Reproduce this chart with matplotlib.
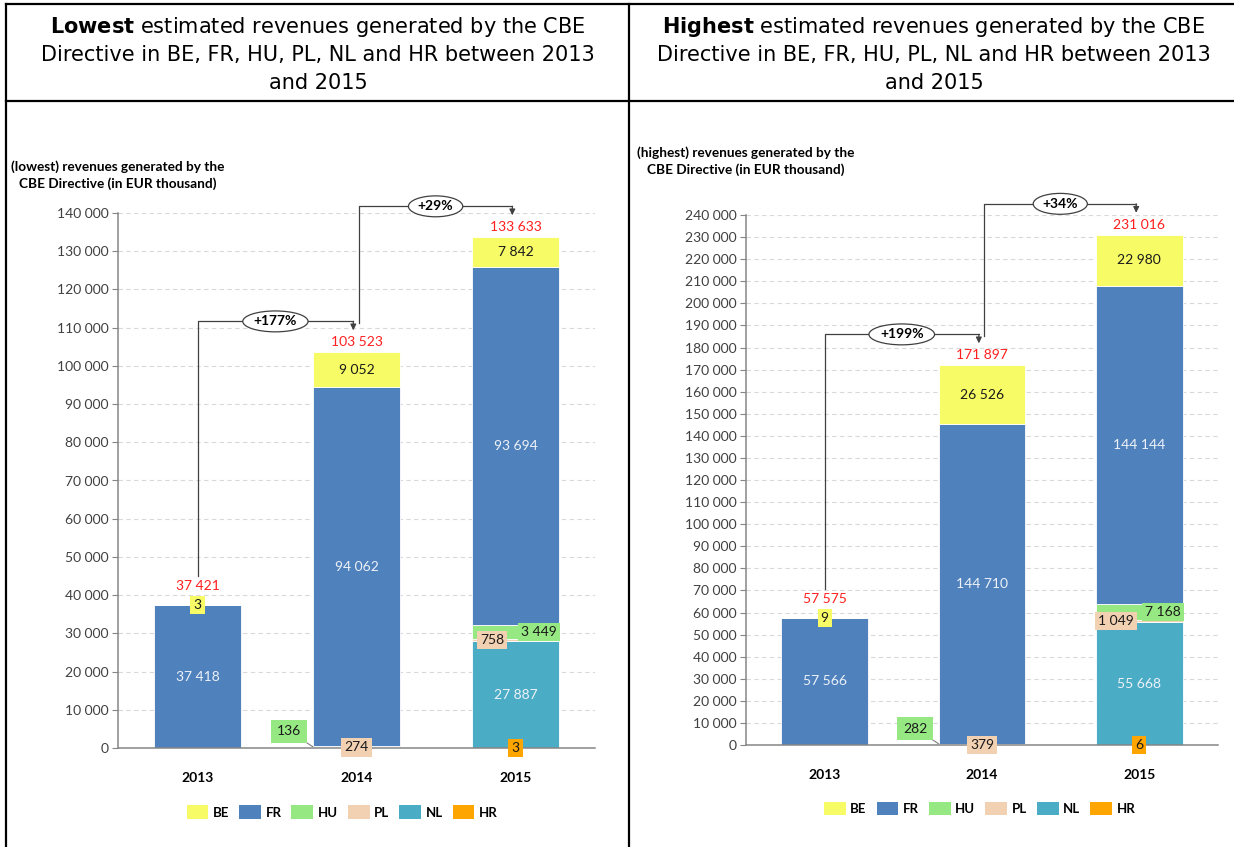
import matplotlib.pyplot as plt
from matplotlib.lines import Line2D
from matplotlib.patches import Patch
from matplotlib.ticker import MultipleLocator, FuncFormatter

plt.rcParams['font.family'] = ['Lato', 'DejaVu Sans']
plt.rcParams['mathtext.fontset'] = 'dejavusans'

years = ['2013', '2014', '2015']
countries = ['BE', 'FR', 'HU', 'PL', 'NL', 'HR']
stack_order = ['HR', 'NL', 'PL', 'HU', 'FR', 'BE']
colors = {'BE': '#F6FB66', 'FR': '#4F81BD', 'HU': '#96E883',
          'PL': '#F2D1B3', 'NL': '#4BACC6', 'HR': '#FFA500'}

# lowest estimate, EUR thousand
low_be = [3, 9052, 7842]
low_fr = [37418, 94062, 93694]
low_hu = [0, 136, 3449]
low_pl = [0, 274, 758]
low_nl = [0, 0, 27887]
low_hr = [0, 0, 3]
low_total = [37421, 103523, 133633]
low_growth = ['+177%', '+29%']

# highest estimate, EUR thousand
high_be = [9, 26526, 22980]
high_fr = [57566, 144710, 144144]
high_hu = [0, 282, 7168]
high_pl = [0, 379, 1049]
high_nl = [0, 0, 55668]
high_hr = [0, 0, 6]
high_total = [57575, 171897, 231016]
high_growth = ['+199%', '+34%']

# label nudges (points) for the thin segments
nudges = {('HU', 1): (-17, 11), ('HU', 2): (17, 0), ('PL', 2): (-17, 0)}

fig = plt.figure(figsize=(12.34, 8.47), dpi=100)
W, H = 1234, 847


def fmt(v):
    return f'{v:,.0f}'.replace(',', ' ')


def px2data(ax, px):
    h = ax.get_position().height * H
    lo, hi = ax.get_ylim()
    return px * (hi - lo) / h


def draw_panel(ax, data, totals, growth, ymax, ylabel, ylabel_y, legend_x):
    width = 0.55
    x = range(len(years))
    bottoms = [0] * len(years)
    for c in stack_order:
        vals = data[c]
        ax.bar(x, vals, width, bottom=bottoms, color=colors[c],
               edgecolor='white', linewidth=0.6, zorder=2)
        for i, v in enumerate(vals):
            if v <= 0:
                continue
            yc = bottoms[i] + v / 2
            light = c in ('FR', 'NL')
            dx, dy = nudges.get((c, i), (0, 0))
            kw = dict(ha='center', va='center', fontsize=10, zorder=6,
                      color='#EEF2F8' if light else '#1A1A1A',
                      textcoords='offset points', xytext=(dx, dy),
                      annotation_clip=False)
            if not light:
                kw['bbox'] = dict(boxstyle='square,pad=0.22', fc=colors[c], ec='none')
            if (c, i) == ('HU', 1):
                # label sits left of the bar, tied to it by a short leader
                kw['bbox'] = dict(boxstyle='square,pad=0.4', fc=colors[c], ec='none')
                kw['arrowprops'] = dict(arrowstyle='-', color='#7F7F7F', lw=0.8,
                                        shrinkA=0, shrinkB=0)
                ax.annotate(fmt(v), (i - width / 2, yc), **kw)
            else:
                ax.annotate(fmt(v), (i, yc), **kw)
        bottoms = [b + v for b, v in zip(bottoms, vals)]

    ax.set_xlim(-0.5, 2.5)
    ax.set_ylim(0, ymax)
    ax.yaxis.set_major_locator(MultipleLocator(10000))
    ax.yaxis.set_major_formatter(FuncFormatter(lambda v, p: fmt(v)))
    ax.yaxis.grid(True, linestyle=(0, (4, 3)), color='#D9D9D9', lw=0.8)
    ax.set_axisbelow(True)
    for s in ('top', 'right'):
        ax.spines[s].set_visible(False)
    for s in ('left', 'bottom'):
        ax.spines[s].set_color('#868686')
        ax.spines[s].set_linewidth(1.1)
    ax.tick_params(axis='y', length=4, color='#868686', labelsize=10,
                   labelcolor='#404040', pad=3)
    ax.set_xticks(list(x))
    ax.set_xticklabels(years, fontweight='bold', fontsize=10)
    ax.tick_params(axis='x', length=0, pad=17)

    # totals on top of each stack; lifted where the tiny BE box sits on top
    for i, t in enumerate(totals):
        lift = 9 if data['BE'][i] < 0.01 * t else 3
        ax.annotate(fmt(t), (i, t), xytext=(0, lift), textcoords='offset points',
                    ha='center', va='bottom', color='#FF1F1F', fontsize=10,
                    annotation_clip=False)

    # growth brackets between consecutive years
    lc = '#404040'
    for i, g in enumerate(growth):
        x0 = i + (0.015 if i > 0 else 0)
        x1 = i + 1 - 0.02
        y0 = totals[i] + px2data(ax, 29)
        ytop = totals[i + 1] + px2data(ax, 31)
        ytip = totals[i + 1] + px2data(ax, 22)
        ax.plot([x0, x0, x1], [y0, ytop, ytop], color=lc, lw=0.9,
                clip_on=False, zorder=4)
        ax.annotate('', xy=(x1, ytip), xytext=(x1, ytop),
                    arrowprops=dict(arrowstyle='-|>,head_length=0.35,head_width=0.17',
                                    color=lc, lw=0.9, shrinkA=0, shrinkB=0),
                    annotation_clip=False)
        ax.text((x0 + x1) / 2, ytop, g, ha='center', va='center',
                fontweight='bold', fontsize=10, zorder=5,
                bbox=dict(boxstyle='ellipse,pad=0.1', fc='white', ec=lc, lw=0.9))

    ax.text(ax.get_position().x0, 1 - ylabel_y / H, ylabel,
            transform=fig.transFigure, ha='center', va='center',
            fontweight='bold', fontsize=9.8, linespacing=1.45)

    handles = [Patch(facecolor=colors[c], edgecolor='none') for c in countries]
    ax.legend(handles, countries, ncol=6, frameon=False, loc='center',
              bbox_to_anchor=(legend_x, -0.12), handlelength=1.65,
              handleheight=1.2, handletextpad=0.35, columnspacing=0.75,
              prop={'weight': 'bold', 'size': 9.5})


ax1 = fig.add_axes([118 / W, 1 - 748 / H, 477 / W, 535 / H])
ax2 = fig.add_axes([746 / W, 1 - 745 / H, 472 / W, 530 / H])

draw_panel(ax1, {'BE': low_be, 'FR': low_fr, 'HU': low_hu, 'PL': low_pl,
                 'NL': low_nl, 'HR': low_hr},
           low_total, low_growth, 140000,
           '(lowest) revenues generated by the\nCBE Directive (in EUR thousand)', 175, 0.47)
draw_panel(ax2, {'BE': high_be, 'FR': high_fr, 'HU': high_hu, 'PL': high_pl,
                 'NL': high_nl, 'HR': high_hr},
           high_total, high_growth, 240000,
           '(highest) revenues generated by the\nCBE Directive (in EUR thousand)', 161, 0.495)

# table frame
for xs, ys in [([6, 6], [4, H]), ([629, 629], [4, H]),
               ([6, W], [4, 4]), ([6, W], [101, 101])]:
    fig.add_artist(Line2D([x / W for x in xs], [1 - y / H for y in ys],
                          transform=fig.transFigure, color='black', lw=1.6))

# cell headings
heads = [(318, 'Lowest'), (934, 'Highest')]
for cx, word in heads:
    lines = [r'$\mathbf{' + word + r'}$ estimated revenues generated by the CBE',
             'Directive in BE, FR, HU, PL, NL and HR between 2013',
             'and 2015']
    for k, line in enumerate(lines):
        fig.text(cx / W, 1 - (27 + 28 * k) / H, line, ha='center', va='center',
                 fontsize=15, family='DejaVu Sans')

fig.savefig('out.png', dpi=100)
